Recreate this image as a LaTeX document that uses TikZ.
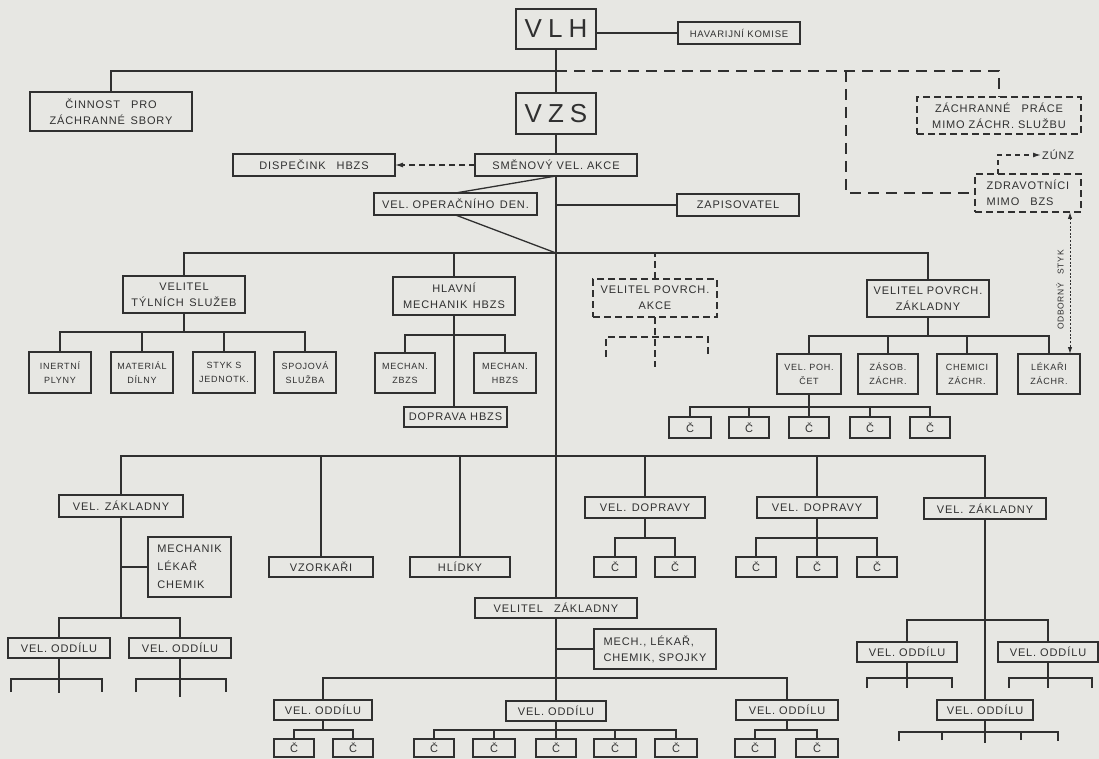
\documentclass[tikz,border=0pt]{standalone}
\usepackage{fontspec}
\setmainfont{Liberation Sans}
\newfontfamily\lab{Liberation Sans}[LetterSpace=8]
\usetikzlibrary{arrows.meta,calc}
\definecolor{paper}{RGB}{231,231,227}
\definecolor{ink}{RGB}{48,48,48}
\newcommand{\fA}{\lab\fontsize{11}{16}\selectfont}
\newcommand{\fB}{\lab\fontsize{9}{14}\selectfont}
\newcommand{\fS}{\lab\fontsize{8.5}{9}\selectfont}
\newcommand{\fBig}{\fontsize{26}{26}\selectfont}
\newcommand{\BX}[7][]{%
  \pgfmathsetmacro\bxcx{(#3+#5)/2}%
  \pgfmathsetmacro\bxcy{(#4+#6)/2}%
  \pgfmathsetmacro\bxw{#5-#3}%
  \pgfmathsetmacro\bxh{#6-#4}%
  \node[bx,minimum width=\bxw pt,minimum height=\bxh pt,#1] (#2) at (\bxcx,\bxcy) {#7};}
\begin{document}
\begin{tikzpicture}[x=1pt,y=-1pt,
  bx/.style={draw=ink,line width=1.3pt,inner sep=0pt,outer sep=0pt,align=center,text=ink,font=\fA},
  dbx/.style={dash pattern=on 7pt off 4pt},
  ln/.style={draw=ink,line width=1.3pt},
  dln/.style={ln,dash pattern=on 11pt off 7pt},
  arrtip/.style={-{Latex[length=8pt,width=5pt]}},
]
\fill[paper] (0,0) rectangle (1099,759);
\useasboundingbox (0,0) rectangle (1099,759);

% ---------- top ----------
\BX[font=\fBig]{vlh}{516}{9}{596}{49}{V\hspace{6pt}L\hspace{6pt}H}
\BX[font=\lab\fontsize{9.5}{12}\selectfont]{hav}{678}{22}{800}{44}{HAVARIJNÍ KOMISE}
\BX{cin}{30}{92}{192}{131}{ČINNOST\quad PRO\\ZÁCHRANNÉ\enspace SBORY}
\BX[font=\fBig]{vzs}{516}{93}{596}{134}{V\hspace{6pt}Z\hspace{6pt}S}
\BX[dbx]{zp}{917}{97}{1081}{134}{ZÁCHRANNÉ\quad PRÁCE\\MIMO ZÁCHR. SLUŽBU}
\BX{dis}{233}{154}{395}{176}{DISPEČINK\quad HBZS}
\BX{sme}{475}{154}{637}{176}{SMĚNOVÝ VEL. AKCE}
\BX[dbx,align=left]{zdr}{975}{174}{1081}{212}{ZDRAVOTNÍCI\\MIMO\quad BZS}
\node[text=ink,font=\fA,anchor=west,inner sep=1pt] (zunz) at (1041,155) {ZÚNZ};
\BX{vop}{374}{193}{537}{215}{VEL. OPERAČNÍHO\enspace DEN.}
\BX{zap}{677}{194}{799}{216}{ZAPISOVATEL}

\coordinate (j1) at (556,71);
\coordinate (j2) at (846,71);
\coordinate (zu) at (998,174);
\coordinate (j3) at (556,253);
\coordinate (os) at (1070,0);

\draw[ln] (vlh.south) -- (vzs.north);
\draw[ln] (vzs.south) -- (sme.north);
\draw[ln] (vlh.east |- hav.west) -- (hav.west);
\draw[ln] (j1) -| (cin.north);
\draw[dln] (j1) -| (zp.north);
\draw[dln] (j2) |- (zdr.west);
\draw[ln,dash pattern=on 5pt off 4pt,arrtip] (zu) |- (zunz.west);
\draw[ln,dash pattern=on 6pt off 4pt,arrtip] (sme.west) -- (dis.east);
\draw[ln] (sme.south) -- (vop.north);
\draw[ln] (vop.south) -- (j3);
\draw[ln] (sme.south |- zap.west) -- (zap.west);

% ---------- level 2 ----------
\BX{tyl}{123}{276}{245}{313}{VELITEL\\TÝLNÍCH\enspace SLUŽEB}
\BX{hlm}{393}{277}{515}{315}{HLAVNÍ\\MECHANIK\enspace HBZS}
\BX[dbx]{vpa}{593}{279}{717}{317}{VELITEL POVRCH.\\AKCE}
\BX{vpz}{867}{280}{989}{317}{VELITEL POVRCH.\\ZÁKLADNY}

\draw[ln] (tyl.north) |- (j3) -| (vpz.north);
\draw[ln] (hlm.north) -- (hlm.north |- j3);
\draw[ln,dash pattern=on 7pt off 4pt] (vpa.north) -- (vpa.north |- j3);

\BX[font=\fB]{ine}{29}{352}{91}{393}{INERTNÍ\\PLYNY}
\BX[font=\fB]{mat}{111}{352}{173}{393}{MATERIÁL\\DÍLNY}
\BX[font=\fB]{sty}{193}{352}{255}{393}{STYK S\\JEDNOTK.}
\BX[font=\fB]{spo}{274}{352}{336}{393}{SPOJOVÁ\\SLUŽBA}
\coordinate (j4) at (184,332);
\draw[ln] (tyl.south) -- (j4);
\draw[ln] (ine.north) |- (j4) -| (spo.north);
\draw[ln] (mat.north) -- (mat.north |- j4);
\draw[ln] (sty.north) -- (sty.north |- j4);

\BX[font=\fB]{mz}{375}{353}{435}{393}{MECHAN.\\ZBZS}
\BX[font=\fB]{mh}{474}{353}{536}{393}{MECHAN.\\HBZS}
\BX{dop}{404}{407}{507}{427}{DOPRAVA HBZS}
\coordinate (j5) at (454,335);
\draw[ln] (hlm.south) -- (hlm.south |- dop.north);
\draw[ln] (mz.north) |- (j5) -| (mh.north);

\coordinate (j6) at (655,337);
\coordinate (d1) at (606,357);
\coordinate (d2) at (708,357);
\coordinate (d3) at (655,367);
\draw[ln,dash pattern=on 7pt off 4pt] (vpa.south) -- (d3);
\draw[ln,dash pattern=on 7pt off 4pt] (d1) |- (j6) -| (d2);

\BX[font=\fB]{vpc}{777}{354}{841}{394}{VEL. POH.\\ČET}
\BX[font=\fB]{zas}{858}{354}{918}{394}{ZÁSOB.\\ZÁCHR.}
\BX[font=\fB]{che}{937}{354}{997}{394}{CHEMICI\\ZÁCHR.}
\BX[font=\fB]{lek}{1018}{354}{1080}{394}{LÉKAŘI\\ZÁCHR.}
\coordinate (j7) at (928,336);
\draw[ln] (vpz.south) -- (j7);
\draw[ln] (vpc.north) |- (j7) -| (lek.north);
\draw[ln] (zas.north) -- (zas.north |- j7);
\draw[ln] (che.north) -- (che.north |- j7);

\draw[ln,line width=1pt,dash pattern=on 2pt off 1.6pt,{Latex[length=7pt,width=4.5pt]}-{Latex[length=7pt,width=4.5pt]}] (zdr.south -| os) -- (lek.north -| os);
\node[rotate=90,text=ink,font=\fS,inner sep=0pt] (ost) at (1060,290) {ODBORNÝ\quad STYK};

\BX{c1}{669}{417}{711}{438}{Č}
\BX{c2}{729}{417}{769}{438}{Č}
\BX{c3}{789}{417}{829}{438}{Č}
\BX{c4}{850}{417}{890}{438}{Č}
\BX{c5}{910}{417}{950}{438}{Č}
\coordinate (j8) at (809,407);
\draw[ln] (vpc.south) -- (j8);
\draw[ln] (c1.north) |- (j8) -| (c5.north);
\draw[ln] (c2.north) -- (c2.north |- j8);
\draw[ln] (c3.north) -- (c3.north |- j8);
\draw[ln] (c4.north) -- (c4.north |- j8);

% ---------- level 3 ----------
\BX{vzl}{59}{495}{183}{517}{VEL.\enspace ZÁKLADNY}
\BX[align=left,font=\lab\fontsize{11}{18}\selectfont]{mlc}{148}{537}{231}{597}{MECHANIK\\LÉKAŘ\\CHEMIK}
\BX{vzo}{269}{557}{373}{577}{VZORKAŘI}
\BX{hli}{410}{557}{510}{577}{HLÍDKY}
\BX{vd1}{585}{497}{705}{518}{VEL.\enspace DOPRAVY}
\BX{vd2}{757}{497}{877}{518}{VEL.\enspace DOPRAVY}
\BX{vzr}{924}{498}{1046}{519}{VEL.\enspace ZÁKLADNY}
\BX{vzc}{475}{598}{637}{618}{VELITEL\quad ZÁKLADNY}
\BX[align=left]{msp}{594}{629}{716}{669}{MECH., LÉKAŘ,\\CHEMIK, SPOJKY}

\coordinate (j9) at (556,456);
\draw[ln] (sme.south) -- (vzc.north);
\draw[ln] (vzl.north) |- (j9) -| (vzr.north);
\draw[ln] (vzo.north) -- (vzo.north |- j9);
\draw[ln] (hli.north) -- (hli.north |- j9);
\draw[ln] (vd1.north) -- (vd1.north |- j9);
\draw[ln] (vd2.north) -- (vd2.north |- j9);

% left VEL. ZAKLADNY
\BX{vo1}{8}{638}{110}{658}{VEL. ODDÍLU}
\BX{vo2}{129}{638}{231}{658}{VEL. ODDÍLU}
\coordinate (j10) at (121,618);
\draw[ln] (vzl.south) -- (j10);
\draw[ln] (vzl.south |- mlc.west) -- (mlc.west);
\draw[ln] (vo1.north) |- (j10) -| (vo2.north);
\coordinate (r1l) at (11,692); \coordinate (r1m) at (59,679);
\coordinate (r1r) at (102,692); \coordinate (r1e) at (59,693);
\draw[ln] (vo1.south) -- (r1e);
\draw[ln] (r1l) |- (r1m) -| (r1r);
\coordinate (r2l) at (136,692); \coordinate (r2m) at (180,679);
\coordinate (r2r) at (226,692); \coordinate (r2e) at (180,697);
\draw[ln] (vo2.south) -- (r2e);
\draw[ln] (r2l) |- (r2m) -| (r2r);

% VEL. DOPRAVY
\BX{cd1a}{594}{557}{636}{577}{Č}
\BX{cd1b}{655}{557}{695}{577}{Č}
\coordinate (j13) at (645,538);
\draw[ln] (vd1.south) -- (j13);
\draw[ln] (cd1a.north) |- (j13) -| (cd1b.north);
\BX{cd2a}{736}{557}{776}{577}{Č}
\BX{cd2b}{797}{557}{837}{577}{Č}
\BX{cd2c}{857}{557}{897}{577}{Č}
\coordinate (j14) at (817,538);
\draw[ln] (vd2.south) -- (cd2b.north);
\draw[ln] (cd2a.north) |- (j14) -| (cd2c.north);

% right VEL. ZAKLADNY
\BX{vor1}{857}{642}{957}{662}{VEL. ODDÍLU}
\BX{vor2}{998}{642}{1098}{662}{VEL. ODDÍLU}
\BX{vor3}{937}{700}{1033}{720}{VEL. ODDÍLU}
\coordinate (j12) at (985,620);
\draw[ln] (vzr.south) -- (vor3.north);
\draw[ln] (vor1.north) |- (j12) -| (vor2.north);
\coordinate (r3l) at (867,688); \coordinate (r3m) at (907,678);
\coordinate (r3r) at (952,688); \coordinate (r3e) at (907,688);
\draw[ln] (vor1.south) -- (r3e);
\draw[ln] (r3l) |- (r3m) -| (r3r);
\coordinate (r4l) at (1009,688); \coordinate (r4m) at (1048,678);
\coordinate (r4r) at (1092,688); \coordinate (r4e) at (1048,688);
\draw[ln] (vor2.south) -- (r4e);
\draw[ln] (r4l) |- (r4m) -| (r4r);
\coordinate (r5l) at (899,741); \coordinate (r5m) at (985,732);
\coordinate (r5r) at (1058,741); \coordinate (r5e) at (985,743);
\coordinate (r5a) at (942,740); \coordinate (r5b) at (1021,740);
\draw[ln] (vor3.south) -- (r5e);
\draw[ln] (r5l) |- (r5m) -| (r5r);
\draw[ln] (r5a) -- (r5a |- r5m);
\draw[ln] (r5b) -- (r5b |- r5m);

% center VELITEL ZAKLADNY
\BX{vob1}{274}{700}{372}{720}{VEL. ODDÍLU}
\BX{vom}{506}{701}{606}{721}{VEL. ODDÍLU}
\BX{vob3}{736}{700}{838}{720}{VEL. ODDÍLU}
\coordinate (j11) at (556,678);
\draw[ln] (vzc.south) -- (vom.north);
\draw[ln] (vzc.south |- msp.west) -- (msp.west);
\draw[ln] (vob1.north) |- (j11) -| (vob3.north);

\BX{cb1a}{274}{739}{314}{757}{Č}
\BX{cb1b}{333}{739}{373}{757}{Č}
\coordinate (j15) at (323,730);
\draw[ln] (vob1.south) -- (j15);
\draw[ln] (cb1a.north) |- (j15) -| (cb1b.north);

\BX{cm1}{414}{739}{454}{757}{Č}
\BX{cm2}{473}{739}{515}{757}{Č}
\BX{cm3}{536}{739}{576}{757}{Č}
\BX{cm4}{594}{739}{636}{757}{Č}
\BX{cm5}{655}{739}{697}{757}{Č}
\coordinate (j16) at (556,730);
\draw[ln] (vom.south) -- (cm3.north);
\draw[ln] (cm1.north) |- (j16) -| (cm5.north);
\draw[ln] (cm2.north) -- (cm2.north |- j16);
\draw[ln] (cm4.north) -- (cm4.north |- j16);

\BX{cb3a}{735}{739}{775}{757}{Č}
\BX{cb3b}{796}{739}{838}{757}{Č}
\coordinate (j17) at (787,730);
\draw[ln] (vob3.south) -- (j17);
\draw[ln] (cb3a.north) |- (j17) -| (cb3b.north);
\end{tikzpicture}
\end{document}
